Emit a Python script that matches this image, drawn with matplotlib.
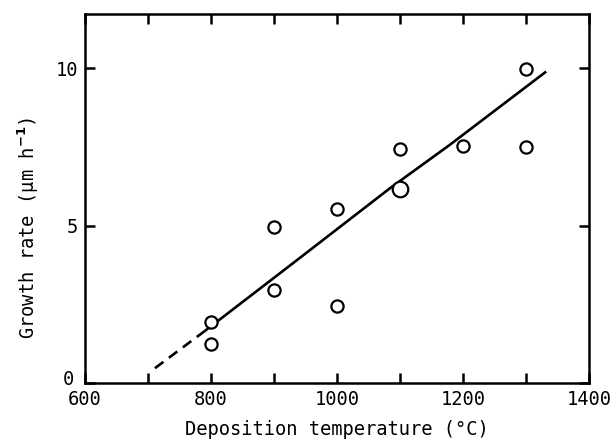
import matplotlib
matplotlib.use('Agg')
import matplotlib.pyplot as plt
from matplotlib.transforms import ScaledTranslation

# measured points (deposition temperature in C, growth rate in um/h)
temps = [800, 800, 900, 900, 1000, 1000, 1100, 1200, 1300, 1300]
rates = [1.95, 1.25, 2.96, 4.95, 5.53, 2.46, 7.44, 7.54, 9.98, 7.49]
# the larger circle at 1100 C
big_temps = [1100]
big_rates = [6.17]

# drawn trend line, solid part and dashed extrapolation
fit_t = [790, 940, 1084, 1179, 1332]
fit_r = [1.65, 3.96, 6.19, 7.57, 9.90]
ext_t = [711, 790]
ext_r = [0.47, 1.65]

xticks = [600, 700, 800, 900, 1000, 1100, 1200, 1300, 1400]
xlabels = ['600', '', '800', '', '1000', '', '1200', '', '1400']
yticks = [0, 5, 10]

plt.rcParams['font.family'] = ['DejaVu Sans Mono']

fig = plt.figure(figsize=(6.1, 4.44), dpi=100)
ax = fig.add_axes([0.1393, 0.1374, 0.8263, 0.8311])

ax.plot(fit_t, fit_r, color='black', lw=1.9, solid_capstyle='butt')
ax.plot(ext_t, ext_r, color='black', lw=1.9, dashes=(4, 2.6))
ax.plot(temps, rates, 'o', ms=8.8, mfc='white', mec='black', mew=1.6, ls='none')
ax.plot(big_temps, big_rates, 'o', ms=11.2, mfc='white', mec='black', mew=1.6, ls='none')

ax.set_xlim(600, 1400)
ax.set_ylim(0, 11.73)
ax.set_xticks(xticks)
ax.set_xticklabels(xlabels)
ax.set_yticks(yticks)
ax.tick_params(direction='in', length=7, width=1.8, top=True, right=True,
               labelsize=13.5, pad=5)
for s in ax.spines.values():
    s.set_linewidth(1.8)

# lift the "0" a little so it does not sit on top of "600"
zero = ax.get_yticklabels()[0]
zero.set_transform(zero.get_transform() + ScaledTranslation(-0.04, 0.05, fig.dpi_scale_trans))

ax.set_xlabel('Deposition temperature (°C)', fontsize=13.5, labelpad=8)
ax.set_ylabel('Growth rate (µm h$^{\\mathbf{-1}}$)', fontsize=13.5)
ax.yaxis.set_label_coords(-0.088, 0.42)

fig.savefig('out.png', dpi=100)
